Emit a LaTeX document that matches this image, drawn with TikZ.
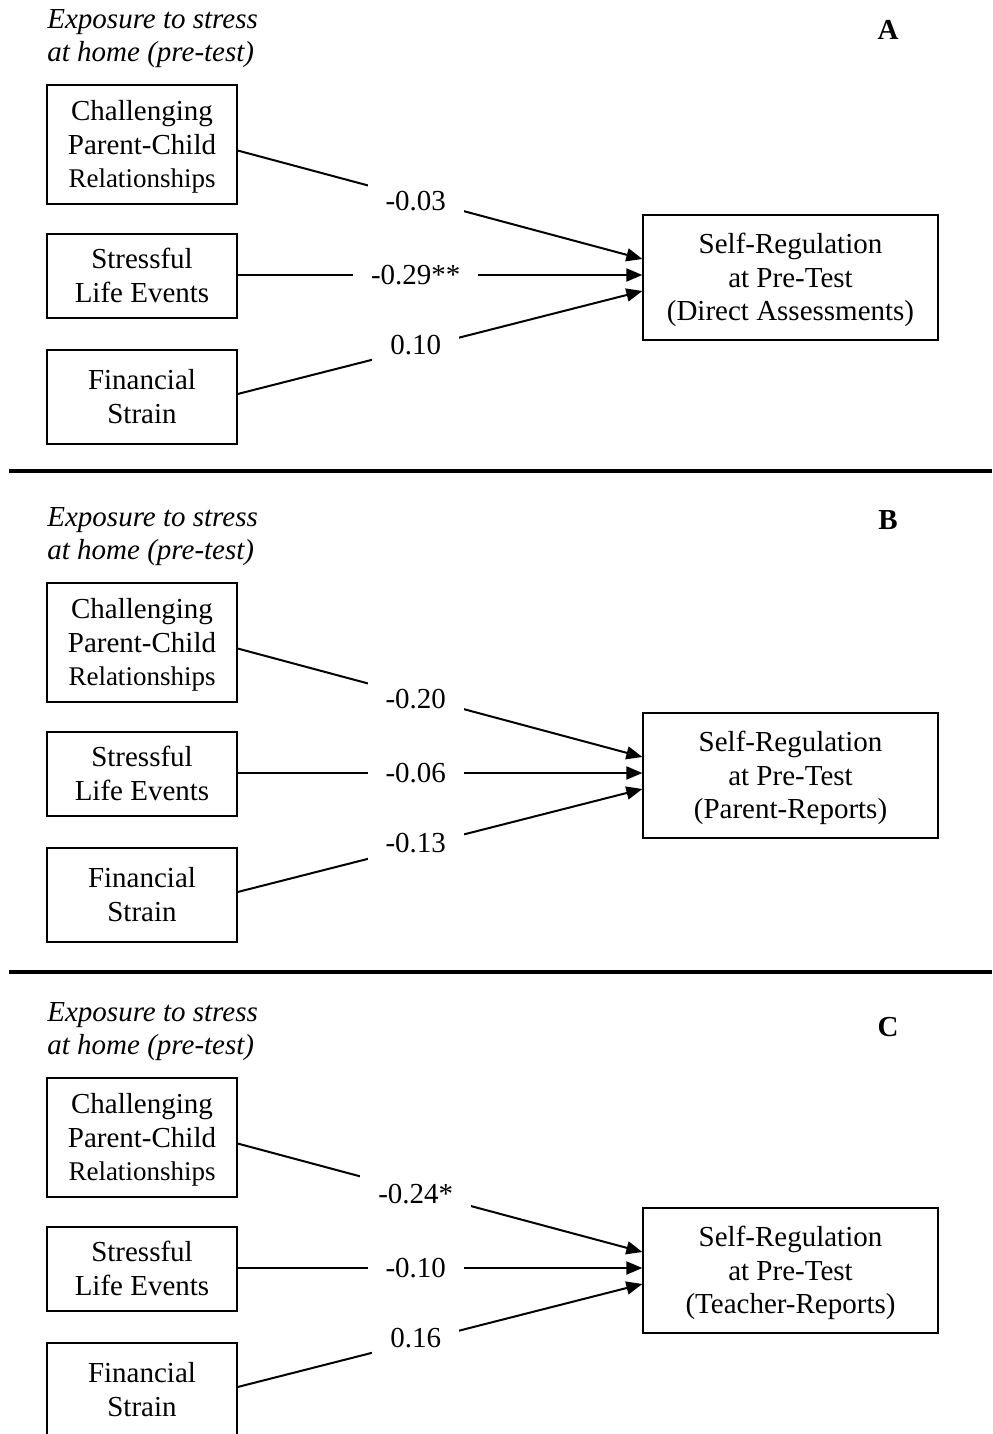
\documentclass[tikz,border=0pt]{standalone}
\usepackage{fontspec}
\setmainfont{Liberation Serif}
\usetikzlibrary{arrows.meta,positioning}

% even strut, so that the lines sit in the middle of their box
\newcommand\linestrut{\rule[-3.6pt]{0pt}{16.8pt}}

\tikzset{
  varbox/.style={draw,line width=0.65pt,align=center,inner sep=0pt,
    minimum width=95pt,font=\fontsize{14.5}{16.8}\selectfont},
  outbox/.style={varbox,minimum width=147.5pt,minimum height=62.5pt},
  coef/.style={fill=white,inner xsep=9pt,inner ysep=4.5pt,pos=0.44,
    font=\fontsize{14.5}{16.8}\selectfont},
  path/.style={line width=1pt,->},
  panel/.style={font=\fontsize{14.5}{16.8}\selectfont\bfseries},
  divider/.style={line width=2pt}
}

\begin{document}
\begin{tikzpicture}[x=0.5pt,y=-0.5pt,>={Triangle[length=8pt,width=6.5pt]}]
\useasboundingbox (0,0) rectangle (992,1434);
\clip (0,0) rectangle (992,1434);
% panels A, B, C
\foreach \p/\dy/\ly/\outc/\wa/\wb/\wc in {
  A/0/30/{Direct Assessments}/-0.03/-0.29**/0.10,
  B/498/520/{Parent-Reports}/-0.20/-0.06/-0.13,
  C/993/1027/{Teacher-Reports}/-0.24*/-0.10/0.16}{
 \node[anchor=west,align=left,inner sep=0pt,font=\fontsize{14.5}{16.8}\selectfont\itshape]
  (title\p) at (47,38.5+\dy) {Exposure to stress\\ at home (pre-test)};
 \node[panel] (lett\p) at (888,\ly) {\p};
 \node[varbox,minimum height=59.5pt] (pcr\p) at (142,144.5+\dy)
  {\linestrut Challenging\\ Parent-Child\\ {\fontsize{13.5}{16.8}\selectfont Relationships}\linestrut};
 \node[varbox,minimum height=42pt] (sle\p) at (142,276+\dy) {\linestrut Stressful\\ Life Events\linestrut};
 \node[varbox,minimum height=47pt] (fin\p) at (142,397+\dy) {\linestrut Financial\\ Strain\linestrut};
 \node[outbox] (sr\p) at (790.5,277.5+\dy)
  {\linestrut Self-Regulation\\ at Pre-Test\\ (\outc)\linestrut};
 \draw[path] ([yshift=-3pt]pcr\p.east) -- node[coef,yshift=-1.5pt] (wa\p) {\wa} ([yshift=9.25pt]sr\p.west);
 \draw[path] ([yshift=0.5pt]sle\p.east) -- node[coef] (wb\p) {\wb} ([yshift=1.25pt]sr\p.west);
 \draw[path] ([yshift=1.5pt]fin\p.east) -- node[coef,yshift=2pt] (wc\p) {\wc} ([yshift=-6.75pt]sr\p.west);
}
% dividers between panels
\coordinate (divAl) at (9,471);
\coordinate (divAr) at (992,471);
\coordinate (divBl) at (9,972);
\coordinate (divBr) at (992,972);
\draw[divider] (divAl) -- (divAr);
\draw[divider] (divBl) -- (divBr);
\end{tikzpicture}
\end{document}
